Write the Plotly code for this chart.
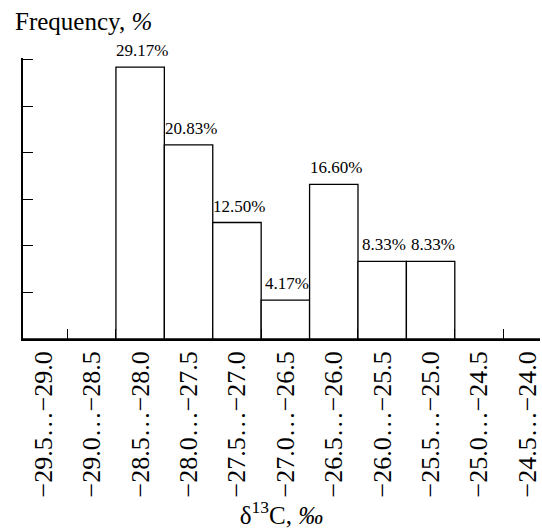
import plotly.graph_objects as go

# δ13C interval bins (‰) and their frequency (%)
bin_lo = ["−29.5", "−29.0", "−28.5", "−28.0", "−27.5", "−27.0", "−26.5", "−26.0", "−25.5", "−25.0", "−24.5"]
bin_hi = ["−29.0", "−28.5", "−28.0", "−27.5", "−27.0", "−26.5", "−26.0", "−25.5", "−25.0", "−24.5", "−24.0"]
frequency = [0, 0, 29.17, 20.83, 12.50, 4.17, 16.60, 8.33, 8.33, 0, 0]

categories = [f"{lo}…{hi}" for lo, hi in zip(bin_lo, bin_hi)]
serif = "Liberation Serif"

fig = go.Figure()
fig.add_trace(go.Bar(
    x=categories,
    y=frequency,
    width=1.0,
    marker=dict(color="white", line=dict(color="black", width=1.3)),
    hoverinfo="skip",
))

# value labels above the non-empty bars
for cat, val in zip(categories, frequency):
    if val > 0:
        fig.add_annotation(
            x=cat, y=val, text=f"{val:.2f}%", showarrow=False,
            xanchor="center", yanchor="bottom", yshift=5, xshift=2,
            font=dict(family=serif, size=17, color="black"),
        )

fig.add_annotation(
    xref="paper", yref="paper", x=-0.02, y=1.0, yshift=21,
    text="Frequency, <i>%</i>", showarrow=False,
    xanchor="left", yanchor="bottom",
    font=dict(family=serif, size=25, color="black"),
)

fig.update_layout(
    width=542, height=531,
    margin=dict(l=23, r=0, t=58, b=192),
    plot_bgcolor="white", paper_bgcolor="white",
    showlegend=False,
    font=dict(family=serif, color="black"),
    xaxis=dict(
        type="category",
        range=[-0.42, 10.26],
        showline=True, linecolor="black", linewidth=1.5,
        showgrid=False, zeroline=False,
        ticks="inside", ticklen=10, tickwidth=1.3, tickcolor="black",
        tickson="boundaries",
        tickangle=-90,
        tickfont=dict(family=serif, size=26, color="black"),
        title=dict(text="δ<sup>13</sup>C, <i>‰</i>", standoff=10,
                   font=dict(family=serif, size=25, color="black")),
    ),
    yaxis=dict(
        range=[0, 30.15],
        tickvals=[5, 10, 15, 20, 25, 30],
        showticklabels=False,
        showline=True, linecolor="black", linewidth=1.5,
        showgrid=False, zeroline=False,
        ticks="inside", ticklen=10, tickwidth=1.3, tickcolor="black",
    ),
)

fig.write_html("out.html")
